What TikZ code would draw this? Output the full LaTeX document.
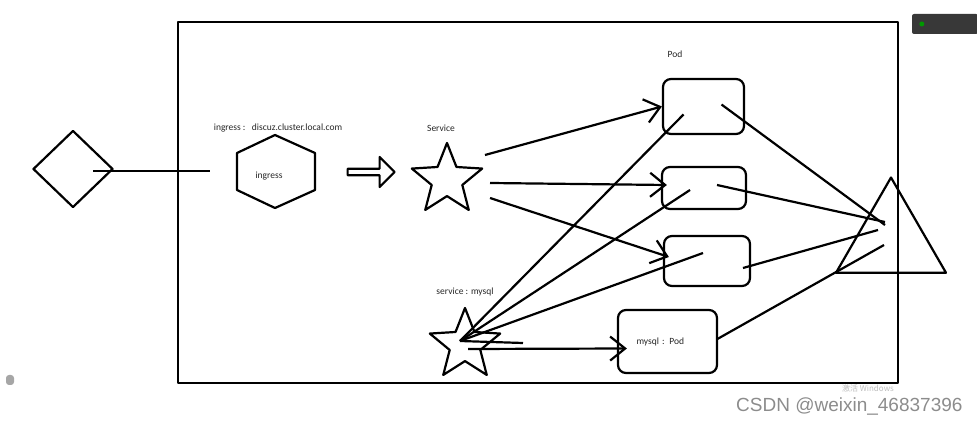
\documentclass[tikz,border=0pt]{standalone}
\usepackage{fontspec}
\setmainfont{Carlito}
\newfontfamily\wmfont{Liberation Sans}
\newfontfamily\cjk{Noto Sans CJK SC}
\usepackage{tikz}
\usetikzlibrary{shapes.geometric,shapes.arrows,arrows.meta,calc}

\begin{document}
\begin{tikzpicture}[x=1pt,y=-1pt, line join=round,
	shapeline/.style={draw, line width=2.2pt},
	pod/.style={shapeline, rounded corners=8pt, inner sep=0pt},
	tag/.style={font=\fontsize{9.5}{11}\selectfont, text=black!85},
	link/.style={line width=2.2pt},
	arr/.style={link, -{Straight Barb[length=15pt,width=24pt]}}]
\useasboundingbox (0,0) rectangle (977,427);

% frame
\draw[line width=2.4pt] (178,22) rectangle (898,383);

% left side
\node[shapeline, diamond, minimum width=80, minimum height=77, inner sep=0pt] (entry) at (73,169) {};
\coordinate (cut) at (210,171);
\draw[link] ($(entry.center)+(20,2)$) -- (cut);

\draw[shapeline] (237,153) -- (275,135) -- (315,153) -- (315,190) -- (275,208) -- (237,190) -- cycle;
\node[tag] (ingress) at (269,176) {ingress};
\node[tag] (ingresstag) at (278,128) {ingress :\ \ \ discuz.cluster.local.com};

\node[shapeline, single arrow, minimum width=30, minimum height=47, single arrow head extend=4pt, inner sep=0pt] (flow) at (369.5,172) {};

% services
\node[shapeline, star, star points=5, star point ratio=2.3, minimum size=74, inner sep=0pt] (service) at (447,180) {};
\node[tag] (servicetag) at (441,128) {Service};
\node[shapeline, star, star points=5, star point ratio=2.3, minimum size=74, inner sep=0pt] (mysqlsvc) at (465,345) {};
\node[tag] (mysqlsvctag) at (465,292) {service : mysql};
\coordinate (hub) at (460,341);

% pods
\node[pod, minimum width=81, minimum height=55] (pod1) at (703.5,106.5) {};
\node[tag] (podtag) at (675,54) {Pod};
\node[pod, minimum width=84, minimum height=42] (pod2) at (704,188) {};
\node[pod, minimum width=86, minimum height=50] (pod3) at (707,261) {};
\node[pod, tag, minimum width=99, minimum height=63, text width=62, align=left] (mysqlpod) at (667.5,341.5) {\raisebox{-5pt}{mysql : Pod}};

% right side
\node[shapeline, regular polygon, regular polygon sides=3, minimum size=127, inner sep=0pt] (tri) at (891,241) {};

% service to pods
\draw[arr] ($(service.center)+(38,-25)$) -- (pod1.west);
\draw[arr] ($(service.center)+(43,3)$) -- ($(pod2.west)+(6,-3)$);
\draw[arr] ($(service.center)+(43,18)$) -- ($(pod3.west)+(6,-4)$);

% pods back to mysql service
\draw[link] ($(pod1.center)+(-20,8)$) -- (hub);
\draw[link] ($(pod2.center)+(-14,2)$) -- (hub);
\draw[link] ($(pod3.center)+(-4,-8)$) -- (hub);
\draw[link] (hub) -- ($(hub)+(63,2)$);
\draw[arr] ($(mysqlsvc.center)+(3,4)$) -- ($(mysqlpod.west)+(10,7)$);

% pods to triangle
\draw[link] ($(pod1.center)+(18,-2)$) -- ($(tri.center)+(-6,-16)$);
\draw[link] ($(pod2.center)+(13,-3)$) -- ($(tri.center)+(-6,-19)$);
\draw[link] ($(pod3.center)+(36,7)$) -- ($(tri.center)+(-13,-11)$);
\draw[link] ($(mysqlpod.center)+(49,-2)$) -- ($(tri.center)+(-7,4)$);

% screen overlay
\node[font=\wmfont\fontsize{19}{21}\selectfont, text=black!45, anchor=west, inner sep=0pt] (csdn) at (736,407) {CSDN @weixin\_46837396};
\node[font=\cjk\fontsize{8}{9}\selectfont, text=black!25, inner sep=0pt] (activate) at (868,388) {激活 Windows};
\node[fill=black!78, rounded corners=2pt, minimum width=66, minimum height=20, inner sep=0pt] (bar) at (945,24) {};
\fill[green!60!black] ($(bar.west)+(10,0)$) circle (2.5);
\node[fill=black!35, rounded corners=3pt, minimum width=8, minimum height=10, inner sep=0pt] (side) at (10,380) {};
\end{tikzpicture}
\end{document}
